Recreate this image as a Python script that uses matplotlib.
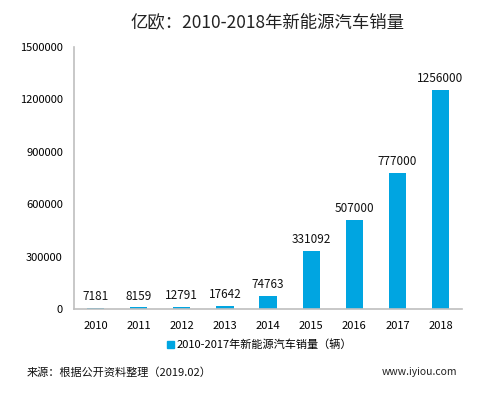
import matplotlib
matplotlib.use("Agg")
import matplotlib.pyplot as plt
from matplotlib.patches import Patch

plt.rcParams['font.family'] = ['Noto Sans CJK SC', 'DejaVu Sans']

years = ['2010', '2011', '2012', '2013', '2014', '2015', '2016', '2017', '2018']
sales = [7181, 8159, 12791, 17642, 74763, 331092, 507000, 777000, 1256000]
yticks = [0, 300000, 600000, 900000, 1200000, 1500000]

title = '亿欧：2010-2018年新能源汽车销量'
legend_label = '2010-2017年新能源汽车销量（辆）'
source = '来源：根据公开资料整理（2019.02）'

color = '#00A5E1'

fig = plt.figure(figsize=(4.9, 3.95), dpi=100)
ax = fig.add_axes([0.151, 0.218, 0.792, 0.663])
x = list(range(len(years)))
bars = ax.bar(x, sales, width=0.4, color=color)
for xi, v in zip(x, sales):
    ax.text(xi, v + 28000, str(v), ha='center', va='bottom', fontsize=8.5, color='#111111')

ax.set_xlim(-0.5, len(years) - 0.5)
ax.set_ylim(0, 1500000)
ax.set_yticks(yticks)
ax.set_yticklabels([str(t) for t in yticks], fontsize=8)
ax.set_xticks(x)
ax.set_xticklabels(years, fontsize=8)
ax.tick_params(axis='y', length=0, pad=8)
ax.tick_params(axis='x', length=0, pad=9)
for s in ['top', 'right']:
    ax.spines[s].set_visible(False)
for s in ['left', 'bottom']:
    ax.spines[s].set_color('#BFBFBF')
    ax.spines[s].set_linewidth(1.2)

fig.text(0.545, 0.945, title, ha='center', va='center', fontsize=12.5, fontweight='medium', color='#222222')
leg = fig.legend(handles=[Patch(color=color)], labels=[legend_label], loc='center',
                 bbox_to_anchor=(0.53, 0.127), frameon=False, fontsize=8,
                 handlelength=0.6, handleheight=0.6, handletextpad=0.3)
fig.text(0.055, 0.057, source, ha='left', va='center', fontsize=8, color='#111111')
fig.text(0.78, 0.057, 'www.iyiou.com', ha='left', va='center', fontsize=7.5, color='#222222')

fig.savefig('out.png', dpi=100)
